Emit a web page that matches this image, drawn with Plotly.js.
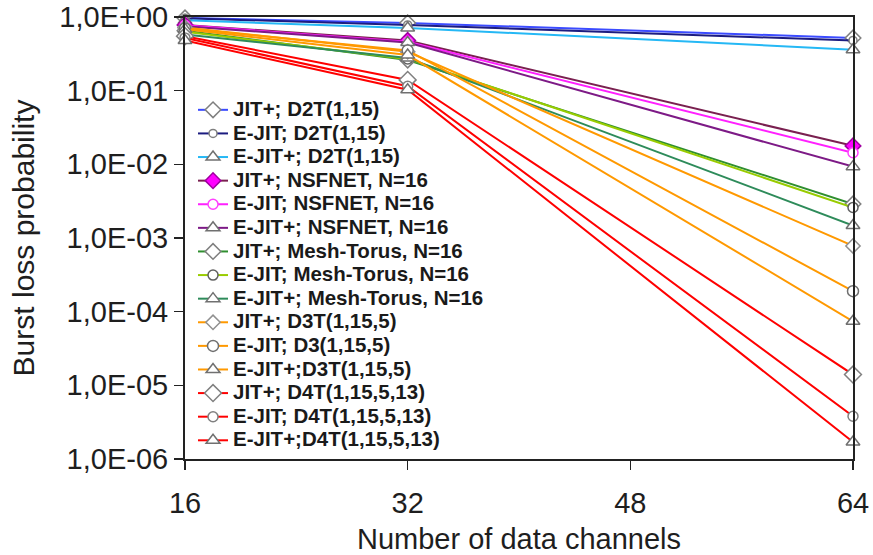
<!DOCTYPE html>
<html>
<head>
<meta charset="utf-8">
<script src="https://cdn.plot.ly/plotly-3.0.1.min.js"></script>
<style>html,body{margin:0;padding:0;background:#fff;}#chart{width:873px;height:555px;}</style>
</head>
<body>
<div id="chart"></div>
<script>
// Number of data channels
const channels = [16, 32, 64];

// Series names (legend order)
const seriesNames = [
  "JIT+; D2T(1,15)",
  "E-JIT; D2T(1,15)",
  "E-JIT+; D2T(1,15)",
  "JIT+; NSFNET, N=16",
  "E-JIT; NSFNET, N=16",
  "E-JIT+; NSFNET, N=16",
  "JIT+; Mesh-Torus, N=16",
  "E-JIT; Mesh-Torus, N=16",
  "E-JIT+; Mesh-Torus, N=16",
  "JIT+; D3T(1,15,5)",
  "E-JIT; D3(1,15,5)",
  "E-JIT+;D3T(1,15,5)",
  "JIT+; D4T(1,15,5,13)",
  "E-JIT; D4T(1,15,5,13)",
  "E-JIT+;D4T(1,15,5,13)"
];

// Burst loss probability values at 16, 32, 64 channels
const jitD2T      = [0.97, 0.83, 0.52];
const ejitD2T     = [0.96, 0.78, 0.48];
const ejitpD2T    = [0.90, 0.71, 0.36];
const jitNSF      = [0.78, 0.48, 0.0178];
const ejitNSF     = [0.77, 0.46, 0.0144];
const ejitpNSF    = [0.75, 0.45, 0.0093];
const jitMesh     = [0.65, 0.26, 0.0029];
const ejitMesh    = [0.63, 0.27, 0.0026];
const ejitpMesh   = [0.58, 0.277, 0.00148];
const jitD3T      = [0.72, 0.337, 0.00078];
const ejitD3      = [0.70, 0.352, 0.00019];
const ejitpD3T    = [0.68, 0.304, 0.000074];
const jitD4T      = [0.55, 0.14, 0.000014];
const ejitD4T     = [0.52, 0.115, 0.0000038];
const ejitpD4T    = [0.48, 0.103, 0.0000017];

const seriesValues = [jitD2T, ejitD2T, ejitpD2T, jitNSF, ejitNSF, ejitpNSF,
  jitMesh, ejitMesh, ejitpMesh, jitD3T, ejitD3, ejitpD3T, jitD4T, ejitD4T, ejitpD4T];

// Y tick labels
const yTickVals = [1e-6, 1e-5, 1e-4, 1e-3, 1e-2, 1e-1, 1];
const yTickText = ["1,0E-06", "1,0E-05", "1,0E-04", "1,0E-03", "1,0E-02", "1,0E-01", "1,0E+00"];
const xTickVals = [16, 32, 48, 64];

// Styles
const lineColors = ["#3b4bff", "#1c1c80", "#25b8f5", "#7a2050", "#ff20ff", "#7d1a86",
  "#2f8f2f", "#99cc00", "#2e8b5a", "#ff9900", "#ff9900", "#ff9900", "#ff0000", "#ff0000", "#ff0000"];
const symbols = ["diamond", "circle", "triangle-up", "diamond", "circle", "triangle-up",
  "diamond", "circle", "triangle-up", "diamond", "circle", "triangle-up", "diamond", "circle", "triangle-up"];
const sizes = [12, 8, 12, 12, 10, 12, 12, 10, 12, 11, 11, 12, 13, 10, 12];
const fills = ["#ffffff", "#ffffff", "#ffffff", "#ff00ff", "#ffffff", "#ffffff",
  "#ffffff", "#ffffff", "#ffffff", "#ffffff", "#ffffff", "#ffffff", "#ffffff", "#ffffff", "#ffffff"];
const outlines = ["#7f7f7f", "#7f7f7f", "#707070", "#a000a0", "#ff40ff", "#707070",
  "#7f7f7f", "#606060", "#707070", "#909090", "#707070", "#707070", "#808080", "#808080", "#707070"];

const traces = seriesNames.map((name, i) => ({
  type: "scatter",
  mode: "lines+markers",
  x: channels,
  y: seriesValues[i],
  name: '<span style="font-size:20.5px">' + name + '</span>',
  cliponaxis: false,
  line: {color: lineColors[i], width: 2},
  marker: {symbol: symbols[i], size: sizes[i], color: fills[i], line: {color: outlines[i], width: 1.5}}
}));

const layout = {
  width: 873, height: 555,
  margin: {l: 185, r: 20, t: 17, b: 96},
  paper_bgcolor: "#ffffff", plot_bgcolor: "#ffffff",
  font: {family: "Liberation Sans, Arial, sans-serif", color: "#1e1e1e"},
  showlegend: true,
  legend: {
    x: 0.012, y: 0.828, xanchor: "left", yanchor: "top",
    bgcolor: "rgba(0,0,0,0)", borderwidth: 0,
    font: {family: "Liberation Sans, Arial, sans-serif", size: 15.85, color: "#1a1a1a", weight: "bold"},
    itemwidth: 30
  },
  xaxis: {
    range: [16, 64], tickvals: xTickVals, ticktext: xTickVals.map(String),
    ticks: "outside", ticklen: 9, tickwidth: 1.5, tickcolor: "#222",
    showline: true, linecolor: "#222", linewidth: 2, mirror: true,
    showgrid: false, zeroline: false,
    tickfont: {size: 29, color: "#1e1e1e"},
    ticklabelstandoff: 8,
    title: {text: "Number of data channels", font: {size: 29, color: "#1e1e1e"}, standoff: 14}
  },
  yaxis: {
    type: "log", range: [-6, 0], tickvals: yTickVals, ticktext: yTickText,
    ticks: "outside", ticklen: 9, tickwidth: 1.5, tickcolor: "#222",
    showline: true, linecolor: "#222", linewidth: 2, mirror: true,
    showgrid: false, zeroline: false,
    tickfont: {size: 29, color: "#1e1e1e"},
    title: {text: "Burst loss probability", font: {size: 30, color: "#1e1e1e"}, standoff: 16}
  }
};

Plotly.newPlot("chart", traces, layout, {displayModeBar: false, staticPlot: true});
</script>
</body>
</html>
